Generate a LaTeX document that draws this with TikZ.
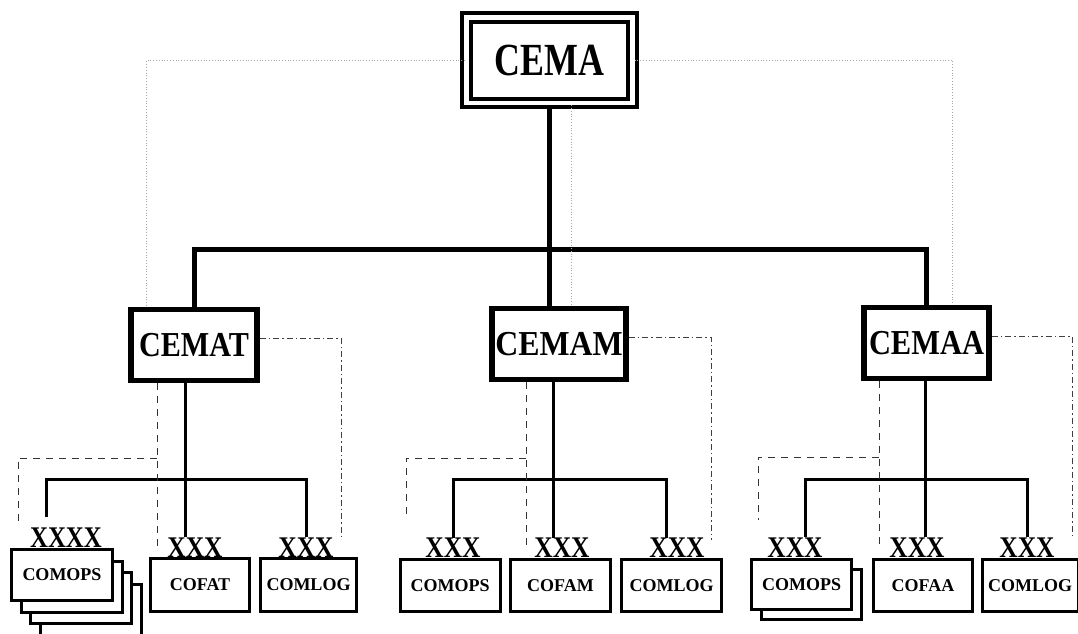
\documentclass[tikz,border=0pt]{standalone}
\usepackage{fontspec}
\setmainfont{Liberation Serif}
\usepackage{graphicx}

\newcommand{\squeeze}[2]{\scalebox{#1}[1]{#2}}

\tikzset{
  supreme/.style={draw, double, line width=4pt, double distance=4.5pt,
    minimum width=165.8pt, minimum height=85.9pt, inner sep=0pt,
    font=\bfseries\fontsize{46}{50}\selectfont},
  chief/.style={draw, line width=5.5pt, minimum height=71pt, inner sep=0pt,
    font=\bfseries\fontsize{35}{40}\selectfont},
  unitbox/.style={draw, fill=white, line width=3pt, minimum width=100pt,
    minimum height=52pt, inner sep=0pt, font=\bfseries\fontsize{18}{20}\selectfont},
  tagtext/.style={anchor=base, inner sep=0pt, font=\bfseries\fontsize{30}{32}\selectfont},
  trunk/.style={line width=5pt},
  branch/.style={line width=3pt},
  staff/.style={gray!70, dotted, line width=0.8pt},
  liaison/.style={gray!40!black, dash pattern=on 7pt off 6pt, line width=1pt},
  adjunct/.style={gray!50!black, dash pattern=on 6pt off 3pt on 1.5pt off 3pt, line width=1pt}
}

\begin{document}
\begin{tikzpicture}[x=1pt, y=-1pt]
    \useasboundingbox (0,0) rectangle (1078,633);

    % top and the three chiefs
    \node[supreme] (cema) at (549.6,60.2) {\squeeze{0.78}{CEMA}};
    \node[chief, minimum width=126pt] (cemat) at (194,345) {\squeeze{0.86}{CEMAT}};
    \node[chief, minimum width=134pt] (cemam) at (559,344) {\squeeze{0.91}{CEMAM}};
    \node[chief, minimum width=125pt] (cemaa) at (926.5,343) {\squeeze{0.87}{CEMAA}};

    % bottom boxes
    \foreach \k in {3,2,1}
        \node[unitbox, minimum width=101pt, minimum height=51pt] at ({62+9.5*\k},{575+11.5*\k}) {};
    \node[unitbox, minimum width=101pt, minimum height=51pt] (opsA) at (62,575) {COMOPS};
    \node[unitbox, minimum width=99pt, minimum height=53pt] (cofatA) at (200,585) {COFAT};
    \node[unitbox, minimum width=96pt, minimum height=53pt] (logA) at (308.5,585) {COMLOG};

    \node[unitbox] (opsB) at (450,585.5) {COMOPS};
    \node[unitbox] (cofamB) at (560.5,585.5) {COFAM};
    \node[unitbox] (logB) at (671.5,585.5) {COMLOG};

    \node[unitbox, minimum height=50pt] at (811.5,594.5) {};
    \node[unitbox, minimum height=50pt] (opsC) at (801.5,584.5) {COMOPS};
    \node[unitbox, minimum width=99pt] (cofaaC) at (923,585.5) {COFAA};
    \node[unitbox, minimum width=96pt] (logC) at (1030,585.5) {COMLOG};

    % XXX marks
    \node[tagtext] (opsAx) at (66,547) {\squeeze{0.83}{XXXX}};
    \node[tagtext] (cofatAx) at (195,557) {\squeeze{0.85}{XXX}};
    \node[tagtext] (logAx) at (306,557) {\squeeze{0.85}{XXX}};
    \node[tagtext] (opsBx) at (453,557.5) {\squeeze{0.85}{XXX}};
    \node[tagtext] (cofamBx) at (562,557.5) {\squeeze{0.85}{XXX}};
    \node[tagtext] (logBx) at (677,557.5) {\squeeze{0.85}{XXX}};
    \node[tagtext] (opsCx) at (795,557) {\squeeze{0.85}{XXX}};
    \node[tagtext] (cofaaCx) at (917,557) {\squeeze{0.85}{XXX}};
    \node[tagtext] (logCx) at (1027,557) {\squeeze{0.85}{XXX}};

    % command lines
    \coordinate (bus) at (0,249.3);
    \draw[trunk] (cema.south) -- (cema.south |- cemam.north);
    \draw[trunk] (cemat.north) -- (cemat.north |- bus) -- (cemaa.north |- bus) -- (cemaa.north);

    \coordinate (hubA) at (185,479);
    \coordinate (legA) at (46,479);
    \coordinate (footA) at (46,517);
    \draw[branch] (cemat.south -| hubA) -- (hubA |- cofatAx.north);
    \draw[branch] (footA) -- (legA) -- (hubA) -| (logAx.north);

    \coordinate (hubB) at (553,479);
    \coordinate (legB) at (453,479);
    \coordinate (rimB) at (666,479);
    \draw[branch] (cemam.south -| hubB) -- (hubB |- cofamBx.north);
    \draw[branch] (legB |- opsBx.north) -- (legB) -- (rimB) -- (rimB |- logBx.north);

    \coordinate (hubC) at (925,479);
    \coordinate (legC) at (805,479);
    \coordinate (rimC) at (1027,479);
    \draw[branch] (cemaa.south -| hubC) -- (hubC |- cofaaCx.north);
    \draw[branch] (legC |- opsCx.north) -- (legC) -- (rimC) -- (rimC |- logCx.north);

    % staff links
    \coordinate (staffL) at (146.7,0);
    \coordinate (staffM) at (571,0);
    \coordinate (staffR) at (952.5,0);
    \draw[staff] (cema.west) -| (cemat.north -| staffL);
    \draw[staff] (cema.east) -| (cemaa.north -| staffR);
    \draw[staff] (cema.south -| staffM) -- (cemam.north -| staffM);

    \coordinate (kneeA) at (157,458);
    \coordinate (tipA) at (157,546);
    \coordinate (hookA) at (18,521);
    \draw[liaison] (cemat.south -| tipA) -- (tipA);
    \draw[liaison] (kneeA) -| (hookA);

    \coordinate (kneeB) at (526,458);
    \coordinate (tipB) at (526,545);
    \coordinate (hookB) at (406,520);
    \draw[liaison] (cemam.south -| tipB) -- (tipB);
    \draw[liaison] (kneeB) -| (hookB);

    \coordinate (kneeC) at (879,457);
    \coordinate (tipC) at (879,545);
    \coordinate (hookC) at (758,520);
    \draw[liaison] (cemaa.south -| tipC) -- (tipC);
    \draw[liaison] (kneeC) -| (hookC);

    \coordinate (endA) at (341,540);
    \coordinate (endB) at (711,540);
    \coordinate (endC) at (1072,538);
    \draw[adjunct] ([yshift=7pt]cemat.east) -| (endA);
    \draw[adjunct] ([yshift=7pt]cemam.east) -| (endB);
    \draw[adjunct] ([yshift=7pt]cemaa.east) -| (endC);
\end{tikzpicture}
\end{document}
